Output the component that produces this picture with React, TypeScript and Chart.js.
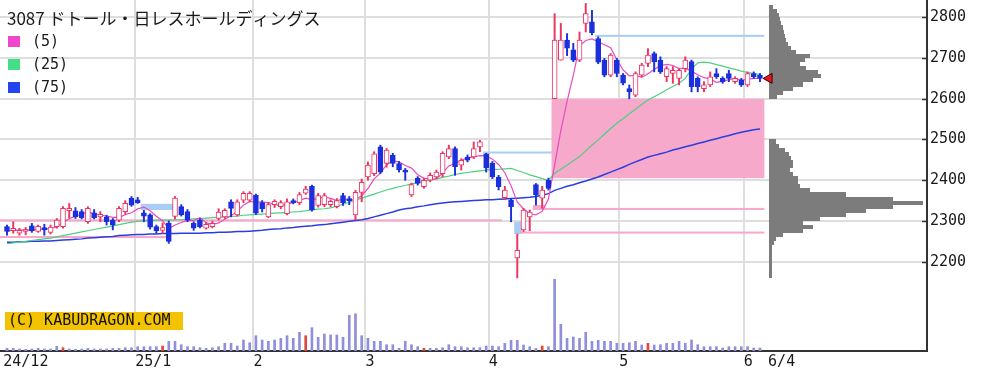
import React, { useEffect, useRef } from "react";
import { Chart, registerables } from "chart.js";

Chart.register(...registerables);

// ---------- text ----------
const TITLE = "3087 ドトール・日レスホールディングス";
const MA_LABELS = ["(5)", "(25)", "(75)"];
const COPYRIGHT = "(C) KABUDRAGON.COM";

// ---------- axes ----------
const X_TICK_POS = [-0.6, 20.6, 39.6, 57.6, 77.4, 98.4, 118.4, 122.3];
const X_TICK_LABELS = ["24/12", "25/1", "2", "3", "4", "5", "6", "6/4"];
const Y_TICKS = [2200, 2300, 2400, 2500, 2600, 2700, 2800];

// ---------- daily candles (2024-12-02 .. 2025-06-04) ----------
const OPEN = [
  2286, 2276, 2270, 2274, 2288, 2274, 2284, 2272, 2286, 2286,
  2325, 2325, 2323, 2298, 2320, 2310, 2310, 2302, 2302, 2323,
  2356, 2352, 2320, 2315, 2286, 2277, 2295, 2311, 2335, 2323,
  2294, 2302, 2282, 2286, 2306, 2310, 2347, 2315, 2351, 2351,
  2363, 2345, 2310, 2340, 2335, 2318, 2350, 2345, 2368, 2385,
  2338, 2340, 2340, 2335, 2362, 2355, 2315, 2370, 2408, 2416,
  2482, 2441, 2462, 2441, 2425, 2364, 2405, 2384, 2400, 2408,
  2416, 2457, 2478, 2437, 2457, 2457, 2482, 2465, 2442, 2408,
  2357, 2351, 2209, 2278, 2310, 2389, 2356, 2400, 2600, 2695,
  2744, 2720, 2695, 2785, 2789, 2748, 2695, 2658, 2695, 2658,
  2625, 2609, 2658, 2687, 2711, 2695, 2654, 2662, 2650, 2674,
  2691, 2650, 2625, 2634, 2662, 2650, 2662, 2642, 2646, 2634,
  2662, 2658,
];
const HIGH = [
  2290, 2298, 2282, 2284, 2294, 2290, 2292, 2290, 2306, 2335,
  2343, 2333, 2328, 2335, 2328, 2323, 2314, 2306, 2335, 2350,
  2360, 2358, 2326, 2318, 2290, 2295, 2300, 2360, 2340, 2328,
  2298, 2306, 2296, 2300, 2330, 2330, 2352, 2352, 2372, 2372,
  2366, 2350, 2345, 2352, 2350, 2354, 2354, 2370, 2385, 2388,
  2368, 2368, 2352, 2355, 2368, 2360, 2375, 2403, 2445, 2470,
  2486, 2478, 2466, 2446, 2429, 2393, 2409, 2405, 2418, 2425,
  2470, 2486, 2482, 2453, 2462, 2494, 2498, 2466, 2446, 2412,
  2385, 2355, 2268, 2331, 2327, 2392, 2385, 2405, 2809, 2785,
  2760, 2736, 2764, 2834, 2817, 2752, 2699, 2711, 2699, 2662,
  2634, 2666, 2687, 2723, 2715, 2703, 2679, 2679, 2674, 2703,
  2695, 2654, 2642, 2666, 2674, 2654, 2670, 2654, 2650, 2666,
  2666, 2662,
];
const LOW = [
  2265, 2270, 2265, 2266, 2272, 2272, 2265, 2268, 2282, 2282,
  2307, 2306, 2305, 2294, 2305, 2298, 2290, 2278, 2298, 2318,
  2336, 2343, 2298, 2280, 2270, 2270, 2245, 2305, 2312, 2298,
  2277, 2283, 2280, 2283, 2302, 2306, 2310, 2312, 2345, 2347,
  2316, 2322, 2308, 2333, 2330, 2315, 2342, 2340, 2365, 2324,
  2334, 2335, 2335, 2332, 2338, 2340, 2302, 2347, 2400, 2411,
  2416, 2432, 2433, 2420, 2400, 2360, 2388, 2380, 2396, 2404,
  2408, 2453, 2412, 2425, 2445, 2453, 2470, 2420, 2404, 2376,
  2352, 2298, 2160, 2274, 2276, 2339, 2331, 2376, 2600, 2695,
  2706, 2691, 2691, 2764, 2757, 2686, 2654, 2654, 2654, 2634,
  2600, 2605, 2654, 2679, 2666, 2662, 2642, 2638, 2634, 2666,
  2617, 2617, 2617, 2630, 2650, 2638, 2642, 2638, 2630, 2630,
  2650, 2642,
];
const CLOSE = [
  2274, 2282, 2277, 2279, 2276, 2287, 2278, 2285, 2302, 2331,
  2331, 2310, 2308, 2331, 2308, 2316, 2298, 2290, 2331, 2343,
  2339, 2345, 2312, 2285, 2276, 2284, 2250, 2356, 2315, 2302,
  2282, 2286, 2292, 2294, 2322, 2326, 2331, 2347, 2368, 2368,
  2319, 2330, 2340, 2348, 2345, 2347, 2345, 2365, 2378, 2327,
  2362, 2362, 2348, 2350, 2345, 2350, 2370, 2395, 2437, 2465,
  2420, 2474, 2441, 2425, 2420, 2389, 2392, 2400, 2412, 2420,
  2466, 2478, 2433, 2449, 2449, 2478, 2494, 2430, 2408, 2384,
  2376, 2335, 2228, 2327, 2322, 2364, 2376, 2380, 2744, 2744,
  2724, 2695, 2744, 2809, 2762, 2690, 2658, 2707, 2662, 2638,
  2617, 2662, 2683, 2707, 2691, 2666, 2674, 2670, 2670, 2695,
  2630, 2630, 2634, 2654, 2654, 2642, 2650, 2650, 2634, 2662,
  2654, 2650,
];
// volume (thousand shares)
const VOLUME = [
  27, 27, 20, 17, 20, 27, 20, 20, 47, 33, 20, 17, 20, 27, 20, 20, 20, 27, 27, 33, 33,
  43, 43, 43, 43, 50, 97, 97, 63, 43, 43, 33, 27, 33, 43, 77, 77, 50, 110, 83,
  153, 110, 97, 110, 127, 153, 127, 187, 153, 233, 137, 170, 160, 160, 137, 357, 373, 153,
  127, 97, 97, 63, 63, 27, 97, 63, 43, 27, 27, 27, 33, 63, 43, 43, 33, 33, 33, 50,
  50, 43, 77, 107, 107, 60, 43, 27, 50, 43, 717, 267, 127, 140, 127, 187, 97, 107, 97, 97, 77,
  77, 83, 97, 60, 77, 60, 63, 77, 77, 97, 77, 110, 63, 43, 43, 43, 30, 43, 43, 43,
  43, 30, 30,
];
const VOLUME_MARKED_DAYS = [9, 25, 48, 67, 86, 103];

// moving averages (25 and 75 days)
const MA25 = [
  2244, 2246, 2248, 2250, 2252, 2254, 2256, 2258, 2261, 2264,
  2267, 2270, 2273, 2276, 2279, 2282, 2285, 2288, 2291, 2294,
  2297, 2299, 2300, 2301, 2302, 2302, 2302, 2303, 2303, 2304,
  2305, 2306, 2307, 2308, 2309, 2310, 2311, 2312, 2314, 2315,
  2316, 2317, 2318, 2319, 2320, 2321, 2322, 2323, 2325, 2327,
  2329, 2330, 2332, 2336, 2341, 2346, 2351, 2356, 2361, 2366,
  2371, 2376, 2380, 2384, 2387, 2391, 2394, 2397, 2400, 2403,
  2407, 2410, 2414, 2417, 2419, 2421, 2423, 2425, 2426, 2427,
  2428, 2429, 2424, 2419, 2413, 2409, 2404, 2400, 2417, 2427,
  2437, 2448, 2458, 2472, 2486, 2499, 2513, 2527, 2540, 2551,
  2563, 2574, 2586, 2597, 2605, 2613, 2622, 2630, 2638, 2650,
  2672, 2688, 2690, 2688, 2684, 2680, 2676, 2672, 2668, 2665,
  2662, 2660,
];
const MA75 = [
  2248, 2248, 2249, 2249, 2250, 2250, 2251, 2251, 2252, 2253,
  2254, 2255, 2256, 2258, 2259, 2260, 2261, 2262, 2264, 2265,
  2266, 2267, 2267, 2268, 2268, 2269, 2269, 2269, 2270, 2270,
  2270, 2270, 2271, 2271, 2272, 2272, 2273, 2274, 2274, 2275,
  2276, 2277, 2279, 2280, 2281, 2283, 2284, 2286, 2287, 2288,
  2290, 2291, 2293, 2295, 2297, 2299, 2301, 2303, 2306, 2310,
  2314, 2318, 2322, 2327, 2330, 2332, 2335, 2337, 2340, 2342,
  2344, 2346, 2347, 2348, 2349, 2350, 2351, 2352, 2352, 2353,
  2354, 2355, 2356, 2357, 2358, 2360, 2363, 2367, 2375, 2380,
  2385, 2389, 2394, 2398, 2403, 2408, 2414, 2420, 2426, 2432,
  2439, 2445, 2451, 2457, 2461, 2465, 2469, 2474, 2478, 2482,
  2486, 2490, 2494, 2498, 2502, 2506, 2510, 2514, 2518, 2521,
  2524, 2526,
];

// price gaps (window) markers: start/end in trading-day index, price range
const GAP_FROM = [-1.2, -1.2, 21.5, 76.5, 81.5, 82.5, 84.5, 84.5, 87.5, 94.5];
const GAP_TO = [79.5, 25.8, 27, 88, 82.7, 121.7, 121.7, 86.5, 121.7, 121.7];
const GAP_LOW = [2299, 2258, 2327, 2466, 2268, 2269, 2327, 2331, 2405, 2752];
const GAP_HIGH = [2304, 2263, 2342, 2470, 2298, 2274, 2332, 2339, 2600, 2757];
const GAP_UP = [true, true, false, false, false, true, true, true, true, false];

// volume-by-price profile (bin lower bound, 10 yen bins)
const PROFILE_LEVELS = [
  2160, 2170, 2180, 2190, 2200, 2210, 2220, 2230, 2240, 2250,
  2260, 2270, 2280, 2290, 2300, 2310, 2320, 2330, 2340, 2350,
  2360, 2370, 2380, 2390, 2400, 2410, 2420, 2430, 2440, 2450,
  2460, 2470, 2480, 2490,
  2600, 2610, 2620, 2630, 2640, 2650, 2660, 2670, 2680, 2690,
  2700, 2710, 2720, 2730, 2740, 2750, 2760, 2770, 2780, 2790,
  2800, 2810, 2820,
];
const PROFILE_VOLUMES = [
  3, 3, 3, 3, 3, 3, 3, 3, 5, 7,
  14, 34, 44, 34, 51, 77, 97, 124, 154, 124,
  77, 41, 31, 29, 29, 24, 21, 24, 24, 22,
  20, 16, 10, 7,
  8, 14, 24, 34, 44, 52, 49, 37, 31, 36,
  41, 27, 22, 19, 17, 16, 15, 14, 12, 11,
  10, 8, 4,
];
const PROFILE_BIN = 10;

// ---------- styling ----------
const RED = "#ec3462";
const BLUE = "#1b2fdc";
const MA_COLORS = ["#e64cc4", "#4fd080", "#2a3ddf"];
const LEGEND_COLORS = ["#f046cc", "#44dd88", "#2444ee"];
const X_MIN = -1.125;
const X_MAX = 147.84;
const Y_MIN = 1980.7;
const Y_MAX = 2842.5;
const PROFILE_X = 122.45;

const MA5 = CLOSE.map((_, i) => {
  const w = CLOSE.slice(Math.max(0, i - 4), i + 1);
  return w.reduce((s, v) => s + v, 0) / w.length;
});

const overlayPlugin = {
  id: "overlay",
  beforeDatasetsDraw(chart: any) {
    const { ctx, chartArea: a } = chart;
    const xs = chart.scales.x;
    const ys = chart.scales.y;
    ctx.save();
    ctx.beginPath();
    ctx.rect(a.left, a.top, a.right - a.left, a.bottom - a.top);
    ctx.clip();
    // gaps
    GAP_FROM.forEach((f, k) => {
      const x1 = Math.max(a.left, xs.getPixelForValue(f));
      const x2 = xs.getPixelForValue(GAP_TO[k]);
      let y1 = ys.getPixelForValue(GAP_HIGH[k]);
      let y2 = ys.getPixelForValue(GAP_LOW[k]);
      if (y2 - y1 < 2) {
        const m = (y1 + y2) / 2;
        y1 = m - 1;
        y2 = m + 1;
      }
      ctx.fillStyle = GAP_UP[k] ? "#f6a9ca" : "#a9cdf5";
      ctx.fillRect(x1, y1, x2 - x1, y2 - y1);
    });
    // profile
    const left = Math.round(xs.getPixelForValue(PROFILE_X));
    const maxW = a.right - 4 - left;
    const maxV = Math.max(...PROFILE_VOLUMES);
    ctx.fillStyle = "#7c7c7c";
    PROFILE_LEVELS.forEach((p, k) => {
      const yt = Math.round(ys.getPixelForValue(p + PROFILE_BIN));
      const yb = Math.round(ys.getPixelForValue(p));
      ctx.fillRect(left, yt, Math.round((PROFILE_VOLUMES[k] / maxV) * maxW), yb - yt);
    });
    ctx.restore();
  },
  afterDatasetsDraw(chart: any) {
    const { ctx } = chart;
    const xs = chart.scales.x;
    const ys = chart.scales.y;
    // last price marker
    const last = CLOSE.length - 1;
    const tx = xs.getPixelForValue(last + 0.5);
    const ty = ys.getPixelForValue(CLOSE[last]);
    ctx.save();
    ctx.beginPath();
    ctx.moveTo(tx, ty);
    ctx.lineTo(tx + 9, ty - 5);
    ctx.lineTo(tx + 9, ty + 5);
    ctx.closePath();
    ctx.fillStyle = "#e8141c";
    ctx.fill();
    ctx.strokeStyle = "#3a0000";
    ctx.lineWidth = 1;
    ctx.stroke();
    // copyright tag
    ctx.fillStyle = "#f3c300";
    ctx.fillRect(5, 312, 178, 18);
    ctx.fillStyle = "#111";
    ctx.font = '15px "DejaVu Sans Mono"';
    ctx.textBaseline = "middle";
    ctx.textAlign = "left";
    ctx.fillText(COPYRIGHT, 8, 321.5);
    ctx.restore();
  },
  afterDraw(chart: any) {
    const { ctx, chartArea: a } = chart;
    const ys = chart.scales.y;
    ctx.save();
    // inward ticks on right axis
    ctx.strokeStyle = "#333";
    ctx.lineWidth = 1.5;
    Y_TICKS.forEach((v) => {
      const py = Math.round(ys.getPixelForValue(v)) + 0.5;
      ctx.beginPath();
      ctx.moveTo(a.right - 5, py);
      ctx.lineTo(a.right, py);
      ctx.stroke();
    });
    // title
    ctx.fillStyle = "#1a1a1a";
    ctx.textBaseline = "middle";
    ctx.textAlign = "left";
    ctx.font = '17px "Noto Sans CJK JP"';
    ctx.fillText(TITLE, 7, 19);
    // legend
    ctx.font = '15px "DejaVu Sans Mono"';
    MA_LABELS.forEach((lab, k) => {
      const cy = 42 + k * 23;
      ctx.fillStyle = LEGEND_COLORS[k];
      ctx.fillRect(8, cy - 6, 12, 11);
      ctx.fillStyle = "#1a1a1a";
      ctx.fillText(lab, 32, cy);
    });
    ctx.restore();
  },
};

const noPadding = (s: any) => {
  s.paddingTop = 0;
  s.paddingBottom = 0;
  s.paddingLeft = 0;
  s.paddingRight = 0;
};

export default function App() {
  const ref = useRef<HTMLCanvasElement | null>(null);
  useEffect(() => {
    document.body.style.margin = "0";
    const canvas = ref.current;
    if (!canvas) return;
    const idx = CLOSE.map((_, i) => i);
    const up = CLOSE.map((c, i) => c >= OPEN[i]);
    const marked = new Set(VOLUME_MARKED_DAYS);
    const chart = new Chart(canvas, {
      type: "bar",
      data: {
        datasets: [
          {
            type: "bar",
            label: "body",
            data: idx.map((i) => ({ x: i, y: [OPEN[i], CLOSE[i]] })) as any,
            backgroundColor: up.map((u) => (u ? "#ffffff" : BLUE)),
            borderColor: up.map((u) => (u ? RED : BLUE)),
            borderWidth: 1,
            borderSkipped: false,
            barThickness: 5,
            grouped: false,
            yAxisID: "y",
          } as any,
          {
            type: "bar",
            label: "wick",
            data: idx.map((i) => ({ x: i, y: [LOW[i], HIGH[i]] })) as any,
            backgroundColor: up.map((u) => (u ? RED : BLUE)),
            borderWidth: 0,
            barThickness: 1.3,
            grouped: false,
            yAxisID: "y",
          } as any,
          {
            type: "line",
            label: "MA5",
            data: idx.map((i) => ({ x: i, y: MA5[i] })) as any,
            borderColor: MA_COLORS[0],
            borderWidth: 1.2,
            pointRadius: 0,
            tension: 0,
            yAxisID: "y",
          } as any,
          {
            type: "line",
            label: "MA25",
            data: idx.map((i) => ({ x: i, y: MA25[i] })) as any,
            borderColor: MA_COLORS[1],
            borderWidth: 1.2,
            pointRadius: 0,
            tension: 0,
            yAxisID: "y",
          } as any,
          {
            type: "line",
            label: "MA75",
            data: idx.map((i) => ({ x: i, y: MA75[i] })) as any,
            borderColor: MA_COLORS[2],
            borderWidth: 1.5,
            pointRadius: 0,
            tension: 0,
            yAxisID: "y",
          } as any,
          {
            type: "bar",
            label: "volume",
            data: idx.map((i) => ({ x: i, y: VOLUME[i] })) as any,
            backgroundColor: idx.map((i) => (marked.has(i) ? "#e0483c" : "#8f8fdc")),
            borderWidth: 0,
            barThickness: 2,
            grouped: false,
            yAxisID: "yv",
          } as any,
        ],
      },
      options: {
        animation: false,
        responsive: false,
        devicePixelRatio: 1,
        layout: { padding: 0 },
        plugins: { legend: { display: false }, tooltip: { enabled: false } },
        scales: {
          x: {
            type: "linear",
            min: X_MIN,
            max: X_MAX,
            offset: false,
            afterBuildTicks: (s: any) => {
              s.ticks = X_TICK_POS.map((v) => ({ value: v }));
            },
            afterFit: (s: any) => {
              s.height = 23;
              noPadding(s);
            },
            ticks: {
              autoSkip: false,
              maxRotation: 0,
              align: "start",
              padding: 2,
              color: "#1a1a1a",
              font: { family: "DejaVu Sans Mono", size: 15 },
              callback: (_v: any, i: number) => X_TICK_LABELS[i],
            },
            grid: {
              offset: false,
              drawTicks: false,
              lineWidth: 2,
              color: (c: any) =>
                c.index === 0 || c.index === X_TICK_POS.length - 1 ? "rgba(0,0,0,0)" : "#dedede",
            },
            border: { display: true, color: "#333", width: 2 },
          } as any,
          y: {
            type: "linear",
            position: "right",
            min: Y_MIN,
            max: Y_MAX,
            afterBuildTicks: (s: any) => {
              s.ticks = Y_TICKS.map((v) => ({ value: v }));
            },
            afterFit: (s: any) => {
              s.width = 65;
              noPadding(s);
            },
            ticks: {
              padding: 3,
              color: "#1a1a1a",
              font: { family: "DejaVu Sans Mono", size: 15 },
              callback: (v: any) => String(v),
            },
            grid: { drawTicks: false, lineWidth: 2, color: "#dedede" },
            border: { display: true, color: "#333", width: 2 },
          } as any,
          yv: {
            type: "linear",
            display: false,
            min: 0,
            max: 3510,
          } as any,
        },
      },
      plugins: [overlayPlugin],
    });
    return () => chart.destroy();
  }, []);
  return (
    <canvas
      ref={ref}
      width={992}
      height={374}
      style={{ display: "block", position: "absolute", left: 0, top: 0 }}
    />
  );
}
